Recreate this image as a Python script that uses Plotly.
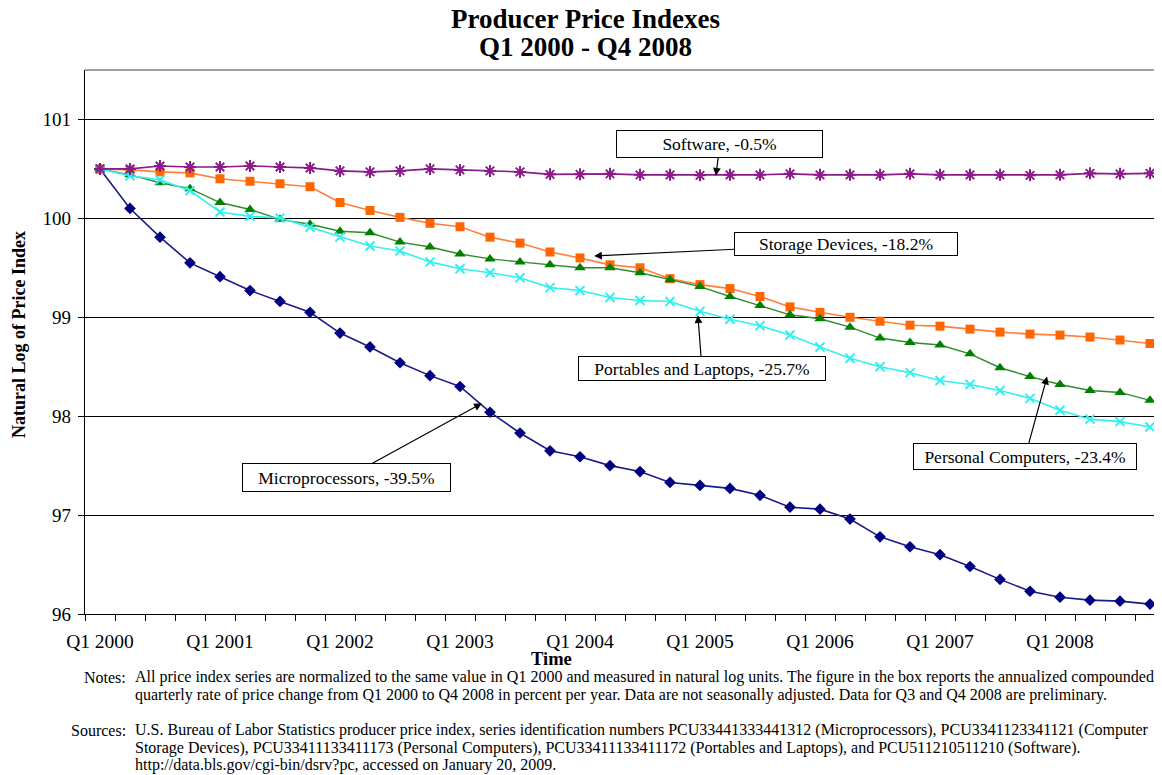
import plotly.graph_objects as go

# ---------------- data ----------------
quarters = [f"Q{q} {y}" for y in range(2000, 2009) for q in range(1, 5)]
label_quarters = ["Q1 2000", "Q1 2001", "Q1 2002", "Q1 2003", "Q1 2004",
                  "Q1 2005", "Q1 2006", "Q1 2007", "Q1 2008"]

microprocessors = [100.50, 100.10, 99.81, 99.55, 99.41, 99.27, 99.16, 99.05, 98.84, 98.70,
                   98.54, 98.41, 98.30, 98.04, 97.83, 97.65, 97.59, 97.50, 97.44, 97.33,
                   97.30, 97.27, 97.20, 97.08, 97.06, 96.96, 96.78, 96.68, 96.60, 96.48,
                   96.35, 96.23, 96.17, 96.14, 96.13, 96.10]
storage = [100.50, 100.49, 100.47, 100.46, 100.40, 100.375, 100.35, 100.32, 100.16, 100.08,
           100.01, 99.95, 99.915, 99.81, 99.75, 99.66, 99.60, 99.53, 99.50, 99.39,
           99.33, 99.29, 99.21, 99.105, 99.05, 99.00, 98.96, 98.92, 98.91, 98.88,
           98.85, 98.83, 98.82, 98.80, 98.77, 98.735]
personal = [100.50, 100.44, 100.36, 100.30, 100.16, 100.09, 99.99, 99.94, 99.87, 99.855,
            99.76, 99.71, 99.64, 99.59, 99.56, 99.53, 99.50, 99.50, 99.45, 99.38,
            99.31, 99.21, 99.12, 99.025, 98.985, 98.90, 98.79, 98.745, 98.72, 98.63,
            98.49, 98.40, 98.32, 98.26, 98.24, 98.16]
portables = [100.50, 100.43, 100.39, 100.28, 100.065, 100.02, 100.005, 99.91, 99.81, 99.72,
             99.67, 99.56, 99.49, 99.45, 99.40, 99.30, 99.27, 99.20, 99.17, 99.16,
             99.06, 98.98, 98.915, 98.82, 98.70, 98.585, 98.50, 98.44, 98.36, 98.32,
             98.26, 98.18, 98.06, 97.97, 97.945, 97.89]
software = [100.50, 100.50, 100.53, 100.52, 100.52, 100.53, 100.52, 100.51, 100.48, 100.47,
            100.48, 100.50, 100.49, 100.48, 100.47, 100.445, 100.445, 100.45, 100.44, 100.44,
            100.435, 100.44, 100.44, 100.45, 100.44, 100.44, 100.44, 100.45, 100.44, 100.44,
            100.44, 100.435, 100.44, 100.455, 100.45, 100.455]

y_ticks = [96, 97, 98, 99, 100, 101]

# callouts: text, arrow target (quarter index, value)
callout_text = ["Software, -0.5%", "Storage Devices, -18.2%", "Portables and Laptops, -25.7%",
                "Microprocessors, -39.5%", "Personal Computers, -23.4%"]
callout_x = [20.53, 16.47, 19.93, 12.73, 31.57]
callout_y = [100.43, 99.62, 99.02, 98.13, 98.40]

notes_lines = [
    "All price index series are normalized to the same value in Q1 2000 and measured in natural log units. The figure in the box reports the annualized compounded",
    "quarterly rate of price change from Q1 2000 to Q4 2008 in percent per year. Data are not seasonally adjusted. Data for Q3 and Q4 2008 are preliminary.",
]
sources_lines = [
    "U.S. Bureau of Labor Statistics producer price index, series identification numbers PCU33441333441312 (Microprocessors), PCU3341123341121 (Computer",
    "Storage Devices), PCU33411133411173 (Personal Computers), PCU33411133411172 (Portables and Laptops), and PCU511210511210 (Software).",
    "http://data.bls.gov/cgi-bin/dsrv?pc, accessed on January 20, 2009.",
]

# ---------------- figure ----------------
SERIF = "Liberation Serif, Times New Roman, serif"
OFF = 8  # page body margin
W, H = 1162 - OFF, 775 - OFF
ML, MT = 85 - OFF, 70 - OFF
MR = 0
MB = H - (614 - OFF)
PW, PH = W - ML - MR, H - MT - MB

def px_x(px):
    return (px - OFF - ML) / PW

def px_y(py):
    return (H - MB - (py - OFF)) / PH

xs = list(range(len(quarters)))
fig = go.Figure()

series = [
    ("Microprocessors", microprocessors, "#000080", "#1a1a8a", "diamond", 9, 1.6),
    ("Storage Devices", storage, "#FF6600", "#FF7F3A", "square", 9, 1.6),
    ("Personal Computers", personal, "#008000", "#2E8B2E", "triangle-up", 10, 1.4),
    ("Portables and Laptops", portables, "#00FFFF", "#33F0F0", "x-thin", 9, 1.6),
    ("Software", software, "#800080", "#8B1A8B", "asterisk", 10, 1.6),
]
for name, vals, mcol, lcol, sym, size, lw in series:
    if sym in ("x-thin", "asterisk"):
        marker = dict(symbol=sym + "-open", size=size, line=dict(color=mcol, width=2))
    else:
        marker = dict(symbol=sym, size=size, color=mcol, line=dict(width=0))
    fig.add_trace(go.Scatter(x=xs, y=vals, name=name, mode="lines+markers",
                             line=dict(color=lcol, width=lw), marker=marker,
                             hovertext=quarters))

fig.update_layout(
    width=W, height=H,
    margin=dict(l=ML, r=MR, t=MT, b=MB),
    plot_bgcolor="white", paper_bgcolor="white",
    showlegend=False,
    font=dict(family=SERIF, color="black"),
    xaxis=dict(
        range=[-0.5, -0.5 + PW / 30.0],
        tickmode="array",
        tickvals=[quarters.index(q) for q in label_quarters],
        ticktext=label_quarters,
        ticks="",
        tickfont=dict(size=19.5, family=SERIF, color="black"),
        ticklabelstandoff=9,
        showgrid=False, zeroline=False,
        showline=True, linecolor="black", linewidth=1.3,
        minor=dict(tickmode="array", tickvals=[i - 0.5 for i in range(len(quarters) + 1)],
                   ticks="outside", ticklen=6, tickcolor="black", tickwidth=1.2, showgrid=False),
    ),
    yaxis=dict(
        range=[96, 101.5],
        tickmode="array", tickvals=y_ticks,
        ticks="outside", ticklen=6, tickcolor="black", tickwidth=1.2,
        tickfont=dict(size=19, family=SERIF, color="black"),
        ticklabelstandoff=3,
        showgrid=True, gridcolor="black", gridwidth=1.3,
        zeroline=False,
        showline=True, linecolor="black", linewidth=1.3,
    ),
)

# top border of plot area
fig.add_shape(type="line", xref="paper", yref="paper", x0=0, x1=1, y0=1, y1=1,
              line=dict(color="#808080", width=1.3))

# title
fig.add_annotation(text="<b>Producer Price Indexes</b>", xref="paper", yref="paper",
                   x=px_x(585), y=px_y(19), showarrow=False, xanchor="center", yanchor="middle",
                   font=dict(size=27, family=SERIF))
fig.add_annotation(text="<b>Q1 2000 - Q4 2008</b>", xref="paper", yref="paper",
                   x=px_x(585), y=px_y(47), showarrow=False, xanchor="center", yanchor="middle",
                   font=dict(size=27, family=SERIF))

# axis titles
fig.add_annotation(text="<b>Time</b>", xref="paper", yref="paper",
                   x=px_x(551), y=px_y(659), showarrow=False, xanchor="center", yanchor="middle",
                   font=dict(size=18.5, family=SERIF))
fig.add_annotation(text="<b>Natural Log of Price Index</b>", xref="paper", yref="paper",
                   x=px_x(19), y=px_y(335), showarrow=False, textangle=-90,
                   xanchor="center", yanchor="middle", font=dict(size=18, family=SERIF))

# callout boxes with arrows
box_geom = [  # box center offset from tip (px), box width, height
    (4, -32, 207, 28),
    (252, -12, 224, 24),
    (4, 53, 248, 25),
    (-135, 74, 209, 29),
    (-22, 80, 224, 27),
]
for txt, tx, ty, (ax, ay, bw, bh) in zip(callout_text, callout_x, callout_y, box_geom):
    fig.add_annotation(text=txt, x=tx, y=ty, xref="x", yref="y",
                       ax=ax, ay=ay, showarrow=True,
                       arrowhead=2, arrowsize=1.3, arrowwidth=1.2, arrowcolor="black",
                       standoff=0, startstandoff=0,
                       bgcolor="white", bordercolor="black", borderwidth=1, borderpad=0,
                       width=bw - 2, height=bh - 2, align="center", valign="middle",
                       font=dict(size=17.5, family=SERIF, color="black"))

# notes and sources
NOTE_SIZE = 16
fig.add_annotation(text="Notes:", xref="paper", yref="paper", x=px_x(128), y=px_y(677),
                   showarrow=False, xanchor="right", yanchor="middle",
                   font=dict(size=NOTE_SIZE, family=SERIF))
for line, yy in zip(notes_lines, [677, 694.5]):
    fig.add_annotation(text=line, xref="paper", yref="paper", x=px_x(133), y=px_y(yy),
                       showarrow=False, xanchor="left", yanchor="middle",
                       font=dict(size=NOTE_SIZE, family=SERIF))
fig.add_annotation(text="Sources:", xref="paper", yref="paper", x=px_x(128), y=px_y(730),
                   showarrow=False, xanchor="right", yanchor="middle",
                   font=dict(size=NOTE_SIZE, family=SERIF))
for line, yy in zip(sources_lines, [730, 747.5, 765]):
    fig.add_annotation(text=line, xref="paper", yref="paper", x=px_x(133), y=px_y(yy),
                       showarrow=False, xanchor="left", yanchor="middle",
                       font=dict(size=NOTE_SIZE, family=SERIF))

fig.write_html("out.html")
